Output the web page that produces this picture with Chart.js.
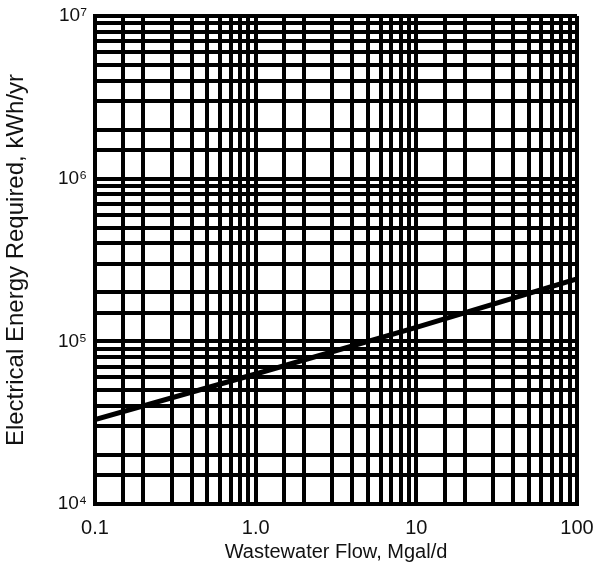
<!DOCTYPE html>
<html><head><meta charset="utf-8">
<script src="https://cdn.jsdelivr.net/npm/chart.js@4"></script>
<style>html,body{margin:0;padding:0;background:#fff;}canvas{display:block;}</style>
</head><body>
<canvas id="c" width="599" height="568"></canvas>
<script>
// Data
const flow = [0.1, 1, 10, 100];                 // Mgal/d
const energy = [33000, 63000, 122000, 242000];  // kWh/yr

// Grid (log paper) lines
const xGrid = [0.1,0.15,0.2,0.3,0.4,0.5,0.6,0.7,0.8,0.9,
               1,1.5,2,3,4,5,6,7,8,9,
               10,15,20,30,40,50,60,70,80,90,100];
const yGrid = [1e4,1.5e4,2e4,3e4,4e4,5e4,6e4,7e4,8e4,9e4,
               1e5,1.5e5,2e5,3e5,4e5,5e5,6e5,7e5,8e5,9e5,
               1e6,1.5e6,2e6,3e6,4e6,5e6,6e6,7e6,8e6,9e6,1e7];

// Tick labels
const xLabelValues = [0.1, 1, 10, 100];
const xLabelTexts = ['0.1', '1.0', '10', '100'];
const yLabelValues = [1e4, 1e5, 1e6, 1e7];
const yLabelTexts = ['10\u2074', '10\u2075', '10\u2076', '10\u2077'];

const xTitle = 'Wastewater Flow, Mgal/d';
const yTitle = 'Electrical Energy Required, kWh/yr';

function labelFor(v, vals, texts) {
  for (let i = 0; i < vals.length; i++) {
    if (Math.abs(v - vals[i]) / vals[i] < 1e-6) return texts[i];
  }
  return '';
}

const FONT = "'Liberation Sans', Arial, Helvetica, sans-serif";

new Chart(document.getElementById('c'), {
  type: 'line',
  data: {
    datasets: [{
      data: flow.map((x, i) => ({x: x, y: energy[i]})),
      borderColor: '#000',
      borderWidth: 5,
      pointRadius: 0,
      tension: 0,
      fill: false
    }]
  },
  options: {
    responsive: false,
    animation: false,
    devicePixelRatio: 1,
    layout: {padding: {top: 16, right: 22, bottom: 0, left: 0}},
    plugins: {legend: {display: false}, tooltip: {enabled: false}},
    scales: {
      x: {
        type: 'logarithmic',
        min: 0.1, max: 100,
        afterBuildTicks: s => { s.ticks = xGrid.map(v => ({value: v})); },
        afterFit: s => { s.height = 64; s.paddingLeft = 0; s.paddingRight = 0; },
        grid: {color: '#000', lineWidth: 4, drawTicks: false},
        border: {color: '#000', width: 4},
        ticks: {
          autoSkip: false, maxRotation: 0, padding: 12,
          color: '#111', font: {family: FONT, size: 20},
          callback: v => labelFor(v, xLabelValues, xLabelTexts)
        },
        title: {display: true, text: xTitle, color: '#111',
                font: {family: FONT, size: 20}, padding: {top: 4, bottom: 4}}
      },
      y: {
        type: 'logarithmic',
        min: 1e4, max: 1e7,
        afterBuildTicks: s => { s.ticks = yGrid.map(v => ({value: v})); },
        afterFit: s => { s.width = 95; s.paddingTop = 0; s.paddingBottom = 0; },
        grid: {color: '#000', lineWidth: 4, drawTicks: false},
        border: {color: '#000', width: 4},
        ticks: {
          autoSkip: false, padding: 8,
          color: '#111', font: {family: FONT, size: 19},
          callback: v => labelFor(v, yLabelValues, yLabelTexts)
        },
        title: {display: true, text: yTitle, color: '#111',
                font: {family: FONT, size: 24}, padding: {top: 2, bottom: 4}}
      }
    }
  }
});
</script>
</body></html>
